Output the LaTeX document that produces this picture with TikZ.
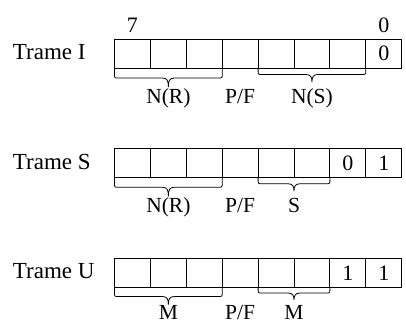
\documentclass[tikz,border=0pt]{standalone}
\usepackage{fontspec}
\setmainfont{Liberation Serif}
\usetikzlibrary{calc}
\newcommand\fieldbrace[4]{%
  \path (#1.south west) coordinate (bl) (#2.south east) coordinate (br)
        ($(bl)!.5!(br)$) coordinate (bm);
  \draw[brc] (bl) -- ($(bl)+(0,{#3-4})$)
     .. controls ($(bl)+(0,#3)$) .. ($(bl)+(4,#3)$)
     -- ($(bm)+(-6,#3)$)
     .. controls ($(bm)+(-1,#3)$) and ($(bm)+(0,{#3+3})$) .. ($(bm)+(0,{#3+#4})$)
     .. controls ($(bm)+(0,{#3+3})$) and ($(bm)+(1,#3)$) .. ($(bm)+(6,#3)$)
     -- ($(br)+(-4,#3)$)
     .. controls ($(br)+(0,#3)$) .. ($(br)+(0,{#3-4})$) -- (br);}
\begin{document}
\begin{tikzpicture}[x=1pt,y=-1pt,
  cell/.style={draw, line width=0.9pt, minimum width=35.9pt, minimum height=29.5pt,
    inner sep=0pt, outer sep=0pt, font=\fontsize{22}{24}\selectfont},
  rowlabel/.style={anchor=base west, inner sep=0pt, font=\fontsize{23}{26}\selectfont},
  fieldlbl/.style={anchor=base, inner sep=0pt, font=\fontsize{21.5}{24}\selectfont},
  bitlbl/.style={anchor=base, inner sep=0pt, font=\fontsize{22}{24}\selectfont},
  brc/.style={line width=0.8pt}]
\useasboundingbox (0,0) rectangle (406,324);
% cells
\foreach \r/\y in {I/53.75, S/163, U/272.75}{
  \foreach \k in {1,...,8}{
    \node[cell] (\r\k) at ({114.5+35.9*(\k-0.5)},\y) {};
  }
}
% cell contents
\node[bitlbl, anchor=center] (vI8) at (I8.center) {0};
\node[bitlbl, anchor=center] (vS7) at (S7.center) {0};
\node[bitlbl, anchor=center] (vS8) at (S8.center) {1};
\node[bitlbl, anchor=center] (vU7) at (U7.center) {1};
\node[bitlbl, anchor=center] (vU8) at (U8.center) {1};
% bit numbers
\node[bitlbl] (b7) at ([yshift=7pt]I1.north) {7};
\node[bitlbl] (b0) at ([yshift=7pt]I8.north) {0};
% row labels
\node[rowlabel] (tI) at ($(I1.west)+(-101.8,6)$) {Trame I};
\node[rowlabel] (tS) at ($(S1.west)+(-101.8,6)$) {Trame S};
\node[rowlabel] (tU) at ($(U1.west)+(-101.8,6)$) {Trame U};
% braces
\fieldbrace{I1}{I3}{9.5}{9}
\fieldbrace{I5}{I7}{6}{7.5}
\fieldbrace{S1}{S3}{9.5}{9}
\fieldbrace{S5}{S6}{6}{7.5}
\fieldbrace{U1}{U3}{9}{8}
\fieldbrace{U5}{U6}{5.5}{7}
% field labels
\node[fieldlbl] (fI1) at ([yshift=-35pt]I2.south) {N(R)};
\node[fieldlbl] (fI2) at ([yshift=-35pt]I4.south) {P/F};
\node[fieldlbl] (fI3) at ([yshift=-35pt]I6.south) {N(S)};
\node[fieldlbl] (fS1) at ([yshift=-35pt]S2.south) {N(R)};
\node[fieldlbl] (fS2) at ([yshift=-35pt]S4.south) {P/F};
\node[fieldlbl] (fS3) at ([yshift=-35pt]S5.south east) {S};
\node[fieldlbl] (fU1) at ([yshift=-32pt]U2.south) {M};
\node[fieldlbl] (fU2) at ([yshift=-32pt]U4.south) {P/F};
\node[fieldlbl] (fU3) at ([yshift=-32pt]U5.south east) {M};
\end{tikzpicture}
\end{document}
